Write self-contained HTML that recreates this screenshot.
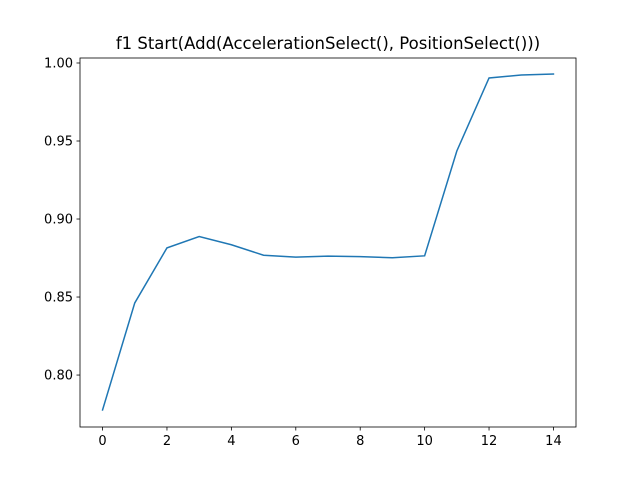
<!DOCTYPE html>
<html><head><meta charset="utf-8"><style>
body{margin:0;background:#fff}
svg text{font-family:"DejaVu Sans","Liberation Sans",sans-serif;fill:#000}
</style></head><body>
<svg id="chart" width="640" height="480">
<rect width="640" height="480" fill="#fff"/>
<text x="328" y="49" font-size="16.5" text-anchor="middle">f1 Start(Add(AccelerationSelect(), PositionSelect()))</text>
<g id="axes"></g>
</svg>
<script>
const xValues=[0,1,2,3,4,5,6,7,8,9,10,11,12,13,14];
const yValues=[0.7776,0.8462,0.8815,0.8888,0.8835,0.8768,0.8756,0.8762,0.8759,0.8752,0.8764,0.9436,0.9904,0.9923,0.9929];
const xTicks=[0,2,4,6,8,10,12,14];
const yTicks=[0.80,0.85,0.90,0.95,1.00];
const L=80,R=576,T=58,B=427;
const xMin=-0.7,xMax=14.7,yMin=0.7667,yMax=1.0032;
const sx=v=>L+(v-xMin)/(xMax-xMin)*(R-L);
const sy=v=>B-(v-yMin)/(yMax-yMin)*(B-T);
const NS="http://www.w3.org/2000/svg";
const g=document.getElementById('axes');
function mk(t,a){const e=document.createElementNS(NS,t);for(const k in a)e.setAttribute(k,a[k]);g.appendChild(e);return e;}
let d=xValues.map((x,i)=>(i?'L':'M')+sx(x).toFixed(2)+','+sy(yValues[i]).toFixed(2)).join(' ');
const line=mk('path',{d:d,fill:'none',stroke:'#1f77b4','stroke-width':1.5,'stroke-linecap':'square'});


const frame=mk('rect',{x:L,y:T,width:R-L,height:B-T,fill:'none',stroke:'#000','stroke-width':0.8});


xTicks.forEach(v=>{const x=sx(v);
mk('line',{x1:x,x2:x,y1:B,y2:B+3.5,stroke:'#000','stroke-width':0.8});
const t=mk('text',{x:x,y:B+18,'font-size':13,'text-anchor':'middle'});t.textContent=v;

});
yTicks.forEach(v=>{const y=sy(v);
mk('line',{x1:L-3.5,x2:L,y1:y,y2:y,stroke:'#000','stroke-width':0.8});
const t=mk('text',{x:L-7,y:y+4.5,'font-size':13,'text-anchor':'end'});t.textContent=v.toFixed(2);

});
</script>
</body></html>
